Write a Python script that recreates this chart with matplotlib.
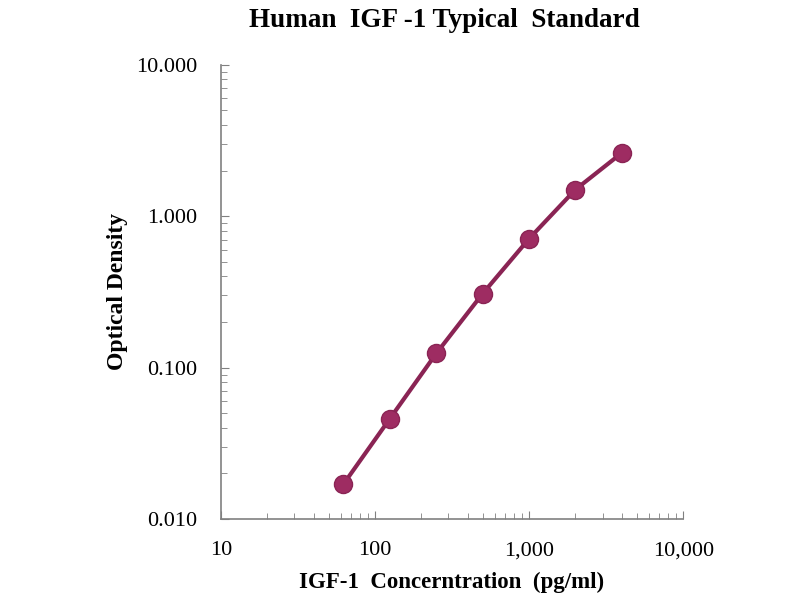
import matplotlib
matplotlib.use('Agg')
import matplotlib.pyplot as plt
from matplotlib.ticker import FixedLocator, LogLocator, NullFormatter

conc = [62.5, 125, 250, 500, 1000, 2000, 4000]
od = [0.017, 0.046, 0.124, 0.308, 0.71, 1.50, 2.62]

x_ticks = [10, 100, 1000, 10000]
x_labels = ['10', '100', '1,000', '10,000']
y_ticks = [0.01, 0.1, 1, 10]
y_labels = ['0.010', '0.100', '1.000', '10.000']

plt.rcParams['font.family'] = ['Liberation Serif', 'DejaVu Serif']

fig = plt.figure(figsize=(8, 6), dpi=100)
ax = fig.add_axes([0.276, 0.135, 0.578, 0.757])

ax.plot(conc, od, color='#8a2454', lw=3, marker='o', ms=13,
        markerfacecolor='#9e2c62', markeredgecolor='#8a2454', zorder=3)

ax.set_xscale('log')
ax.set_yscale('log')
ax.set_xlim(10, 10000)
ax.set_ylim(0.01, 10)

ax.xaxis.set_major_locator(FixedLocator(x_ticks))
ax.set_xticklabels(x_labels)
ax.yaxis.set_major_locator(FixedLocator(y_ticks))
ax.set_yticklabels(y_labels)
ax.xaxis.set_minor_locator(LogLocator(base=10, subs=range(2, 10)))
ax.yaxis.set_minor_locator(LogLocator(base=10, subs=range(2, 10)))
ax.xaxis.set_minor_formatter(NullFormatter())
ax.yaxis.set_minor_formatter(NullFormatter())

for side in ['top', 'right']:
    ax.spines[side].set_visible(False)
for side in ['left', 'bottom']:
    ax.spines[side].set_color('#808080')
    ax.spines[side].set_linewidth(1.2)

ax.tick_params(which='both', direction='in', color='#808080', labelsize=16)
ax.tick_params(which='major', length=6)
ax.tick_params(which='minor', length=4)
ax.tick_params(axis='x', pad=16)
ax.tick_params(axis='y', pad=17)

ax.set_xlabel('IGF-1  Concerntration  (pg/ml)', fontsize=16.5, fontweight='bold', labelpad=8)
ax.set_ylabel('Optical Density', fontsize=17, fontweight='bold', labelpad=6)
fig.suptitle('Human  IGF -1 Typical  Standard', fontsize=19.5, fontweight='bold', x=0.555, y=0.987)

fig.savefig('out.png', dpi=100)
